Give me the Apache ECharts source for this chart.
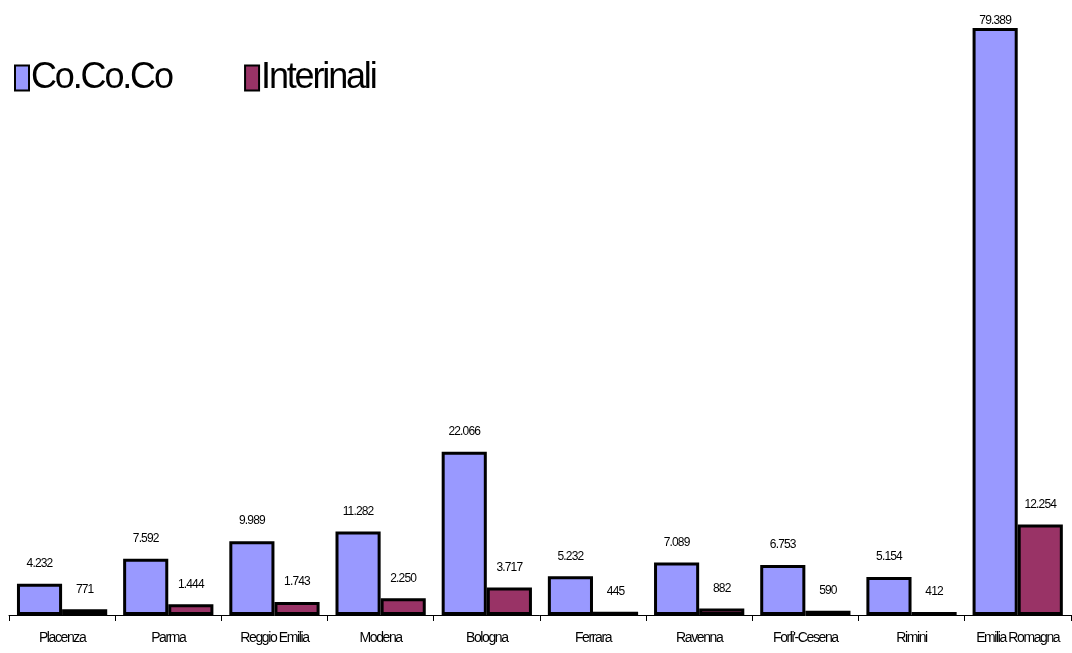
<!DOCTYPE html>
<html>
<head>
<meta charset="utf-8">
<script src="https://cdn.jsdelivr.net/npm/echarts@6/dist/echarts.min.js"></script>
<style>
  html, body { margin: 0; padding: 0; background: #fff; }
  #chart { width: 1072px; height: 653px; }
</style>
</head>
<body>
<div id="chart"></div>
<script>
// Province names along the x axis
const provinces = ['Placenza', 'Parma', 'Reggio Emilia', 'Modena', 'Bologna',
  'Ferrara', 'Ravenna', "Forli'-Cesena", 'Rimini', 'Emilia Romagna'];
// Collaboratori coordinati e continuativi
const cococo = [4232, 7592, 9989, 11282, 22066, 5232, 7089, 6753, 5154, 79389];
// Lavoratori interinali
const interinali = [771, 1444, 1743, 2250, 3717, 445, 882, 590, 412, 12254];

const FONT = '"Liberation Sans", Arial, sans-serif';

// Tight, condensed lettering: tighten tracking in proportion to the font size
(function () {
  const proto = CanvasRenderingContext2D.prototype;
  if (!('letterSpacing' in proto)) return;
  const orig = proto.fillText;
  proto.fillText = function (text, x, y, maxWidth) {
    const m = /(\d+(?:\.\d+)?)px/.exec(this.font);
    const size = m ? parseFloat(m[1]) : 12;
    const k = size >= 30 ? 0.06 : size >= 14 ? 0.1 : 0.07;
    this.letterSpacing = (-size * k).toFixed(2) + 'px';
    const r = maxWidth === undefined ? orig.call(this, text, x, y) : orig.call(this, text, x, y, maxWidth);
    this.letterSpacing = '0px';
    return r;
  };
})();

// Italian thousands separator
const fmt = v => String(v).replace(/\B(?=(\d{3})+(?!\d))/g, '.');

const labelStyle = {
  show: true,
  position: 'top',
  distance: 14,
  color: '#000',
  fontFamily: FONT,
  fontSize: 12,
  formatter: p => fmt(p.value)
};

function withLabelOverrides(values) {
  const top = Math.max(...values);
  return values.map(v => {
    // the tallest bar keeps its label tight to the top of the plot
    if (v === top) {
      return { value: v, label: { distance: 1 } };
    }
    return v;
  });
}

const chart = echarts.init(document.getElementById('chart'));
chart.setOption({
  animation: false,
  backgroundColor: '#fff',
  grid: { left: 9, right: 0, top: 23.5, bottom: 38 },
  legend: {
    left: 14,
    top: 60,
    padding: 0,
    icon: 'rect',
    itemWidth: 14,
    itemHeight: 25,
    itemGap: 55,
    textStyle: { fontFamily: FONT, fontSize: 36, color: '#000', padding: [0, 0, 0, -3] },
    data: ['Co.Co.Co', 'Interinali'],
    itemStyle: { borderColor: '#000', borderWidth: 2 }
  },
  xAxis: {
    type: 'category',
    data: provinces,
    axisLine: { lineStyle: { color: '#000', width: 1 } },
    axisTick: { show: true, length: 6, lineStyle: { color: '#000' } },
    axisLabel: { color: '#000', fontFamily: FONT, fontSize: 14, margin: 16, interval: 0 }
  },
  yAxis: {
    type: 'value',
    min: 0,
    max: 80000,
    show: false,
    splitLine: { show: false }
  },
  series: [
    {
      name: 'Co.Co.Co',
      type: 'bar',
      data: withLabelOverrides(cococo),
      barGap: '0%',
      barCategoryGap: '15%',
      itemStyle: { color: '#9999FF', borderColor: '#000', borderWidth: 3 },
      label: labelStyle
    },
    {
      name: 'Interinali',
      type: 'bar',
      data: interinali,
      barGap: '0%',
      barCategoryGap: '15%',
      itemStyle: { color: '#993366', borderColor: '#000', borderWidth: 3 },
      label: labelStyle
    }
  ]
});
</script>
</body>
</html>
